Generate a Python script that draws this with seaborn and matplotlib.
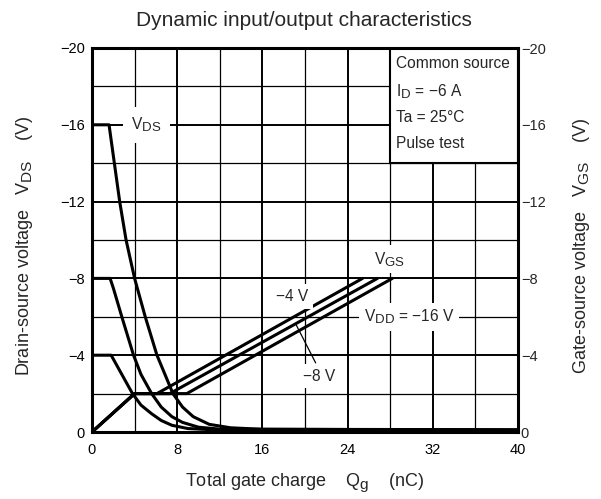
import numpy as np
import pandas as pd
import matplotlib
matplotlib.use("Agg")
import matplotlib.pyplot as plt
import seaborn as sns
from matplotlib.patches import Rectangle
from matplotlib.ticker import MultipleLocator

try:
    import matplotlib._mathtext as _mt
    _mt.SHRINK_FACTOR = 0.85
except Exception:
    pass

# ---------------- data ----------------
vds16_q = [0, 1.6, 1.8, 2.2, 2.6, 3.2, 4.0, 5.0, 6.1, 7.6, 8.5, 9.5, 11, 13, 16, 40]
vds16_v = [-16, -16, -15.2, -13.6, -12, -10, -8, -6, -4, -2, -1.3, -0.8, -0.4, -0.22, -0.14, -0.12]
vds8_q = [0, 1.7, 2.0, 2.8, 3.9, 4.6, 5.6, 6.5, 7.5, 8.5, 10, 12, 40]
vds8_v = [-8, -8, -7.5, -6, -4, -3, -2, -1.3, -0.8, -0.5, -0.25, -0.15, -0.1]
vds4_q = [0, 1.8, 2.2, 3.0, 3.8, 4.6, 5.6, 6.5, 7.5, 9, 12, 40]
vds4_v = [-4, -4, -3.6, -2.8, -2.0, -1.4, -0.95, -0.6, -0.35, -0.18, -0.1, -0.08]

vgs_v = [0, -2, -2, -8]
vgs4_q = [0, 4, 6.1, 25.4]
vgs8_q = [0, 4, 7.3, 26.8]
vgs16_q = [0, 4, 8.9, 28.2]

x_ticks = [0, 8, 16, 24, 32, 40]
y_ticks = [0, -4, -8, -12, -16, -20]
cond_lines = ["Common source", r"I$_{\mathrm{D}}$ = −6 A", "Ta = 25°C", "Pulse test"]

# ---------------- style ----------------
sns.set_style("white")
plt.rcParams["font.family"] = ["Liberation Sans", "DejaVu Sans"]
plt.rcParams["mathtext.fontset"] = "custom"
plt.rcParams["mathtext.rm"] = "Liberation Sans"
plt.rcParams["mathtext.it"] = "Liberation Sans:italic"
plt.rcParams["axes.unicode_minus"] = True

fig = plt.figure(figsize=(6.01, 4.99), dpi=100)
ax = fig.add_axes([92 / 601, 1 - 432 / 499, (518 - 92) / 601, (432 - 48) / 499])

LW = 2.2
curves = [(vds16_q, vds16_v), (vds8_q, vds8_v), (vds4_q, vds4_v),
          (vgs4_q, vgs_v), (vgs8_q, vgs_v), (vgs16_q, vgs_v)]
for q, v in curves:
    df = pd.DataFrame({"q": q, "v": v})
    sns.lineplot(data=df, x="q", y="v", sort=False, estimator=None,
                 color="black", lw=LW, ax=ax, zorder=3)

TICK_FS = 10.5
ax.set_xlim(0, 40)
ax.set_ylim(0, -20)
ax.set_xticks(x_ticks)
ax.set_yticks(y_ticks)
ax.xaxis.set_minor_locator(MultipleLocator(4))
ax.yaxis.set_minor_locator(MultipleLocator(2))
ax.set_xticklabels([str(t) for t in x_ticks])
ax.set_yticklabels([("−" + str(-t)) if t != 0 else "0" for t in y_ticks])
ax.grid(which="major", color="black", lw=1.4)
ax.grid(which="minor", color="black", lw=0.9)
ax.set_axisbelow(True)
ax.tick_params(which="both", length=0, labelsize=TICK_FS, colors="black")
ax.tick_params(axis="y", pad=5)
ax.tick_params(axis="x", pad=8)
ax.set_xlabel("")
ax.set_ylabel("")
for s in ax.spines.values():
    s.set_linewidth(2.2)
    s.set_color("black")
    s.set_zorder(5)

ax2 = ax.twinx()
ax2.set_ylim(0, -20)
ax2.set_yticks(y_ticks)
ax2.set_yticklabels([("−" + str(-t)) if t != 0 else "0" for t in y_ticks])
ax2.tick_params(length=0, pad=2, labelsize=TICK_FS)
ax2.grid(False)
for s in ax2.spines.values():
    s.set_visible(False)

# conditions box
ax.add_patch(Rectangle((28, -14), 12, -6, facecolor="white", edgecolor="black",
                       lw=1.5, zorder=4))
ANN_FS = 11.2
for txt, yy in zip(cond_lines, [-19.2, -17.75, -16.4, -15.0]):
    ax.text(28.5, yy, txt, fontsize=ANN_FS, ha="left", va="center", zorder=6)

wb = dict(boxstyle="square,pad=0.3", fc="white", ec="none")
ax.text(5.1, -16.0, r"V$_{\mathrm{DS}}$", fontsize=ANN_FS, ha="center", va="center",
        bbox=dict(boxstyle="square,pad=0.55", fc="white", ec="none"), zorder=4)
ax.text(27.9, -9.0, r"V$_{\mathrm{GS}}$", fontsize=ANN_FS, ha="center", va="center",
        bbox=wb, zorder=4)
ax.text(29.8, -6.0, r"V$_{\mathrm{DD}}$ = −16 V", fontsize=ANN_FS, ha="center", va="center",
        bbox=wb, zorder=4)
ax.text(18.8, -7.05, "−4 V", fontsize=ANN_FS, ha="center", va="center", bbox=wb, zorder=4)
ax.text(21.3, -2.9, "−8 V", fontsize=ANN_FS, ha="center", va="center", bbox=wb, zorder=4)
ax.plot([21.0, 19.2], [-3.6, -5.55], color="black", lw=0.9, zorder=4)

fig.text(304 / 601, 1 - 20 / 499, "Dynamic input/output characteristics",
         ha="center", va="center", fontsize=15)
fig.text(305 / 601, 1 - 483 / 499, r"Total gate charge    Q$_{\mathrm{g}}$    (nC)",
         ha="center", va="center", fontsize=13)
fig.text(25 / 601, 1 - 376 / 499, r"Drain-source voltage   V$_{\mathrm{DS}}$    (V)",
         ha="center", va="bottom", rotation=90, fontsize=13)
fig.text(581 / 601, 1 - 374 / 499, r"Gate-source voltage   V$_{\mathrm{GS}}$    (V)",
         ha="center", va="bottom", rotation=90, fontsize=13)

fig.savefig("out.png", dpi=100)
